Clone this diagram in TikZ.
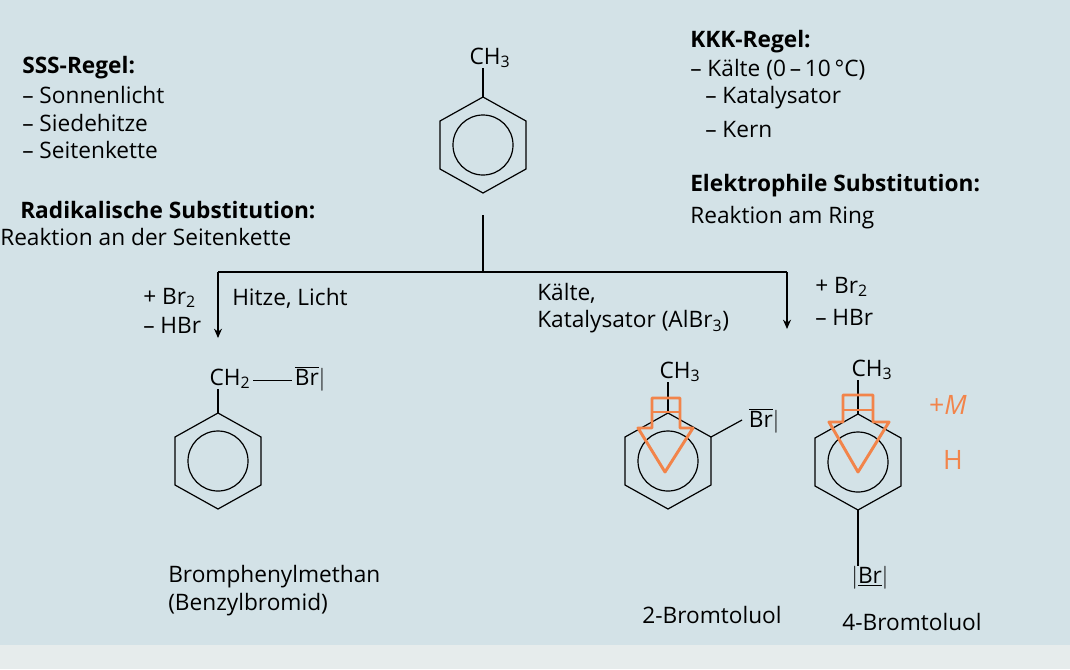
\documentclass[tikz,border=0pt]{standalone}
\usepackage{fontspec}
\setmainfont{Open Sans}
\usetikzlibrary{calc,arrows.meta}
\definecolor{bg}{HTML}{D3E2E7}
\definecolor{bgb}{HTML}{E6ECEC}
\definecolor{orng}{HTML}{F2844A}
\newcommand\sub[1]{\textsubscript{#1}}
\newcommand\myring[3]{%
  \coordinate (#1) at (#2,#3);
  \draw[bond] ($(#1)+(0,-48)$) -- ($(#1)+(43,-24)$) -- ($(#1)+(43,24)$) -- ($(#1)+(0,48)$) -- ($(#1)+(-43,24)$) -- ($(#1)+(-43,-24)$) -- cycle;
  \draw[bond] (#1) circle (30);
  \coordinate (#1top) at ($(#1)+(0,-48)$);
  \coordinate (#1bot) at ($(#1)+(0,48)$);
  \coordinate (#1ur) at ($(#1)+(43,-24)$);}
\begin{document}
\begin{tikzpicture}[x=0.75pt,y=-0.75pt,
  txt/.style={inner sep=0pt,font=\fontsize{17}{20}\selectfont},
  bld/.style={txt,font=\fontsize{17}{20}\selectfont\bfseries},
  bond/.style={line width=0.9pt},
  arr/.style={bond,-{Stealth[length=7pt,width=6pt]}},
  orn/.style={draw=orng,line width=2.2pt,line join=round},
  hand/.style={inner sep=0pt,text=orng,font=\fontsize{20}{22}\selectfont}]
\fill[bg] (0,0) rectangle (1070,669);
\fill[bgb] (0,645) rectangle (1070,669);
\useasboundingbox (0,0) rectangle (1070,669);
% rules
\node[bld,anchor=west] (sss) at (22,68) {SSS-Regel:};
\node[txt,anchor=west] (s1) at (22,95) {– Sonnenlicht};
\node[txt,anchor=west] (s2) at (22,123) {– Siedehitze};
\node[txt,anchor=west] (s3) at (22,150) {– Seitenkette};
\node[bld,anchor=west] (kkk) at (690,42) {KKK-Regel:};
\node[txt,anchor=west] (k1) at (690,70) {– Kälte (0\,–\,10\,°C)};
\node[txt,anchor=west] (k2) at (705,98) {– Katalysator};
\node[txt,anchor=west] (k3) at (705,130) {– Kern};
\node[bld,anchor=west] (rad) at (20,210) {Radikalische Substitution:};
\node[txt,anchor=west] (rad2) at (0,237) {Reaktion an der Seitenkette};
\node[bld,anchor=west] (el) at (690,186) {Elektrophile Substitution:};
\node[txt,anchor=west] (el2) at (690,218) {Reaktion am Ring};
% top toluene
\myring{A}{483}{145}
\node[txt] (ch3a) at (490,58) {CH\sub{3}};
\draw[bond] (Atop) -- (ch3a.south -| Atop);
% branching
\coordinate (b0) at (483,215);
\coordinate (bm) at (483,272);
\coordinate (bl) at (218,272);
\coordinate (br) at (787,272);
\coordinate (el0) at (218,338);
\coordinate (er0) at (787,329);
\draw[bond] (b0) -- (bm);
\draw[bond] (bl) -- (br);
\draw[arr] (bl) -- (el0);
\draw[arr] (br) -- (er0);
\node[txt,anchor=west] (p1) at (143,298) {+ Br\sub{2}};
\node[txt,anchor=west] (p2) at (143,325) {– HBr};
\node[txt,anchor=west] (c1) at (232,298) {Hitze, Licht};
\node[txt,anchor=west] (c2) at (537,293) {Kälte,};
\node[txt,anchor=west] (c3) at (537,322) {Katalysator (AlBr\sub{3})};
\node[txt,anchor=west] (q1) at (815,287) {+ Br\sub{2}};
\node[txt,anchor=west] (q2) at (815,317) {– HBr};
% benzyl bromide
\myring{B}{218}{461}
\node[txt] (ch2) at (230,379) {CH\sub{2}};
\node[txt] (brb) at (310,379) {$\overline{\hbox{Br}}\vert$};
\draw[bond] (ch2.east) ++(2pt,-1pt) -- ($(brb.west)+(-2pt,-1pt)$);
\draw[bond] (Btop) -- (ch2.south -| Btop);
\node[txt,anchor=west] (n1) at (168,577) {Bromphenylmethan};
\node[txt,anchor=west] (n2) at (168,605) {(Benzylbromid)};
% 2-bromotoluene
\myring{C}{668}{461}
\node[txt] (ch3c) at (680,372) {CH\sub{3}};
\draw[bond] (Ctop) -- (ch3c.south -| Ctop);
\node[txt] (brc) at (764,421) {$\overline{\hbox{Br}}\vert$};
\coordinate (brcend) at (742,420);
\draw[bond] (Cur) -- (brcend);
\node[txt] (n3) at (712,615) {2-Bromtoluol};
% 4-bromotoluene
\myring{D}{858}{462}
\node[txt] (ch3d) at (872,370) {CH\sub{3}};
\draw[bond] (Dtop) -- (ch3d.south -| Dtop);
\node[txt] (brd) at (870,578) {$\vert\underline{\hbox{Br}}\vert$};
\draw[bond] (Dbot) -- (brd.north -| Dbot);
\node[txt] (n4) at (912,622) {4-Bromtoluol};
% orange annotations
\draw[orn] (652,398) -- (680,398) -- (680,428) -- (693,428) -- (665,472) -- (638,428) -- (652,428) -- cycle;
\draw[orn] (652,412) -- (680,412);
\draw[orn] (843,395) -- (873,395) -- (873,422) -- (889,422) -- (858,472) -- (829,422) -- (843,422) -- cycle;
\draw[orn] (843,410) -- (873,410);
\node[hand] (pm) at (948,405) {+\itshape M};
\node[hand] (hh) at (953,460) {H};
\end{tikzpicture}
\end{document}
